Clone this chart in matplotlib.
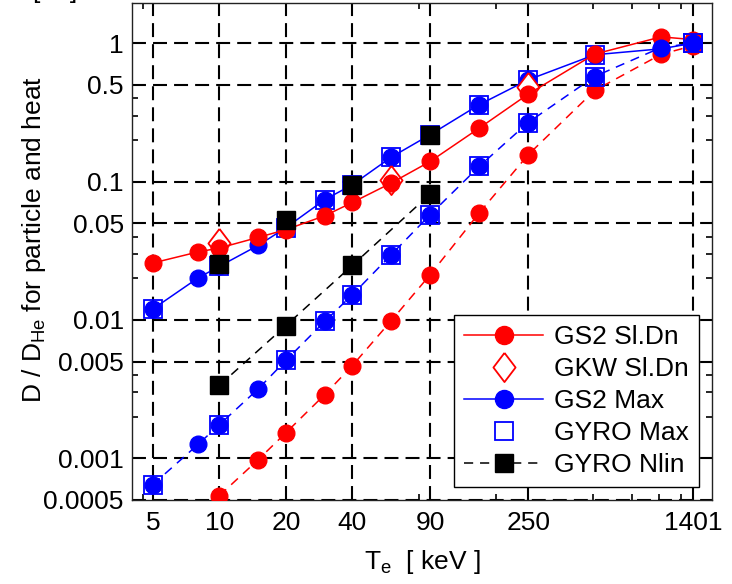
import matplotlib
matplotlib.use('Agg')
import matplotlib.pyplot as plt

plt.rcParams['font.family'] = ['Liberation Sans', 'DejaVu Sans']
plt.rcParams['mathtext.fontset'] = 'custom'
plt.rcParams['mathtext.rm'] = 'Liberation Sans'
plt.rcParams['mathtext.default'] = 'regular'

# electron temperature [keV]
te = [5, 8, 10, 15, 20, 30, 40, 60, 90, 150, 250, 500, 1000, 1401]

# GS2 slowing down, particle (solid) and heat (dashed, starts at 10 keV)
gs2_sldn = [0.0258, 0.031, 0.0331, 0.0395, 0.0449, 0.0566, 0.0706, 0.0976,
            0.1396, 0.243, 0.428, 0.833, 1.11, 1.06]
te_sldn_h = [10, 15, 20, 30, 40, 60, 90, 150, 250, 500, 1000, 1401]
gs2_sldn_h = [0.000538, 0.00098, 0.00153, 0.00289, 0.00468, 0.00988, 0.0212,
              0.0592, 0.156, 0.455, 0.83, 0.96]

# GKW slowing down
te_gkw = [10, 60, 250]
gkw_sldn = [0.0357, 0.103, 0.486]

# GS2 Maxwellian, particle and heat
gs2_max = [0.0120, 0.0201, 0.0244, 0.0346, 0.0464, 0.074, 0.0948, 0.150,
           0.218, 0.359, 0.543, 0.824, 0.91, 1.0]
gs2_max_h = [0.000647, 0.00126, 0.00175, 0.00318, 0.0051, 0.00977, 0.0152,
             0.0296, 0.0576, 0.1285, 0.267, 0.574, 0.93, 1.0]

# GYRO Maxwellian
te_gyro = [5, 10, 20, 30, 40, 60, 90, 150, 250, 500, 1401]
gyro_max = [0.0120, 0.0244, 0.0464, 0.074, 0.0948, 0.150, 0.218, 0.359,
            0.543, 0.824, 1.0]
gyro_max_h = [0.000647, 0.00175, 0.0051, 0.00977, 0.0152, 0.0296, 0.0576,
              0.1285, 0.267, 0.574, 1.0]

# GYRO nonlinear
te_nl = [10, 20, 40, 90]
gyro_nl = [0.0252, 0.053, 0.0948, 0.218]
gyro_nl_h = [0.00337, 0.0091, 0.0248, 0.0813]

xticks = [5, 10, 20, 40, 90, 250, 1401]
xtick_labels = ['5', '10', '20', '40', '90', '250', '1401']
xminor = [4.5, 80, 179, 493, 735, 977, 1236]
yticks = [0.0005, 0.001, 0.005, 0.01, 0.05, 0.1, 0.5, 1]
ytick_labels = ['0.0005', '0.001', '0.005', '0.01', '0.05', '0.1', '0.5', '1']
yminor = [0.002, 0.003, 0.004, 0.02, 0.03, 0.04, 0.2, 0.3, 0.4]

fig = plt.figure(figsize=(7.32, 5.84), dpi=100)
ax = fig.add_axes([132/732, 84/584, 580/732, 497/584])

dash = (0, (6, 4.5))
diamond = [(0, 1), (0.76, 0), (0, -1), (-0.76, 0), (0, 1)]

ax.plot(te, gs2_max, '-', color='blue', lw=1.1, marker='o', ms=12, zorder=3)
ax.plot(te_gyro, gyro_max, 's', mfc='none', mec='blue', mew=1.3, ms=13, zorder=3)
ax.plot(te_gkw, gkw_sldn, ls='none', marker=diamond, mfc='white', mec='red',
        mew=1.3, ms=21, zorder=4)
ax.plot(te, gs2_sldn, '-', color='red', lw=1.1, marker='o', ms=12, zorder=5)
ax.plot(te_sldn_h, gs2_sldn_h, color='red', ls=dash, lw=1.1, marker='o', ms=12, zorder=5)
ax.plot(te, gs2_max_h, color='blue', ls=dash, lw=1.1, marker='o', ms=12, zorder=6)
ax.plot(te_gyro, gyro_max_h, 's', mfc='none', mec='blue', mew=1.3, ms=13, zorder=6)
ax.plot(te_nl, gyro_nl, 's', color='black', ms=13, zorder=7)
ax.plot(te_nl, gyro_nl_h, color='black', ls=dash, lw=1.1, marker='s', ms=13, zorder=7)

ax.set_xscale('log')
ax.set_yscale('log')
ax.set_xlim(4.02, 1700)
ax.set_ylim(0.0005, 1.95)
ax.set_xticks(xticks)
ax.set_xticklabels(xtick_labels)
ax.set_xticks(xminor, minor=True)
ax.set_xticklabels([], minor=True)
ax.set_yticks(yticks)
ax.set_yticklabels(ytick_labels)
ax.set_yticks(yminor, minor=True)
ax.set_yticklabels([], minor=True)

ax.tick_params(which='both', direction='in', top=True, right=True,
               labelsize=19, width=1.2)
ax.tick_params(which='major', length=7, pad=8)
ax.tick_params(which='minor', length=4)
ax.tick_params(axis='y', which='major', pad=6)
for s in ax.spines.values():
    s.set_linewidth(1.0)
    s.set_color('#222222')

ax.grid(which='major', color='black', ls=(0, (6.7, 3.4)), lw=1.5, zorder=1)
ax.set_axisbelow(True)

ax.set_xlabel('T$_e$  [ keV ]', fontsize=19, labelpad=9)
ax.set_ylabel('D / D$_{He}$ for particle and heat', fontsize=19)
ax.yaxis.set_label_coords(-0.145, 0.525)

fig.text(33/732, 1 + 2/584, '[ a ]', fontsize=19, va='baseline', ha='left')

h1, = ax.plot([], [], '-', color='red', lw=1.1, marker='o', ms=13)
h2, = ax.plot([], [], ls='none', marker=diamond, mfc='white', mec='red', mew=1.3, ms=21)
h3, = ax.plot([], [], '-', color='blue', lw=1.1, marker='o', ms=13)
h4, = ax.plot([], [], 's', mfc='none', mec='blue', mew=1.3, ms=13)
h5, = ax.plot([], [], color='black', ls=dash, lw=1.1, marker='s', ms=13)
leg = ax.legend([h1, h2, h3, h4, h5],
                ['GS2 Sl.Dn', 'GKW Sl.Dn', 'GS2 Max', 'GYRO Max', 'GYRO Nlin'],
                loc='lower right', fontsize=19, numpoints=1, handlelength=3.0,
                handletextpad=0.4, labelspacing=0.3, borderpad=0.4,
                borderaxespad=0.48, fancybox=False, framealpha=1,
                edgecolor='black')
leg.get_frame().set_linewidth(1.0)
leg.set_zorder(10)

fig.savefig('out.png', dpi=100)
